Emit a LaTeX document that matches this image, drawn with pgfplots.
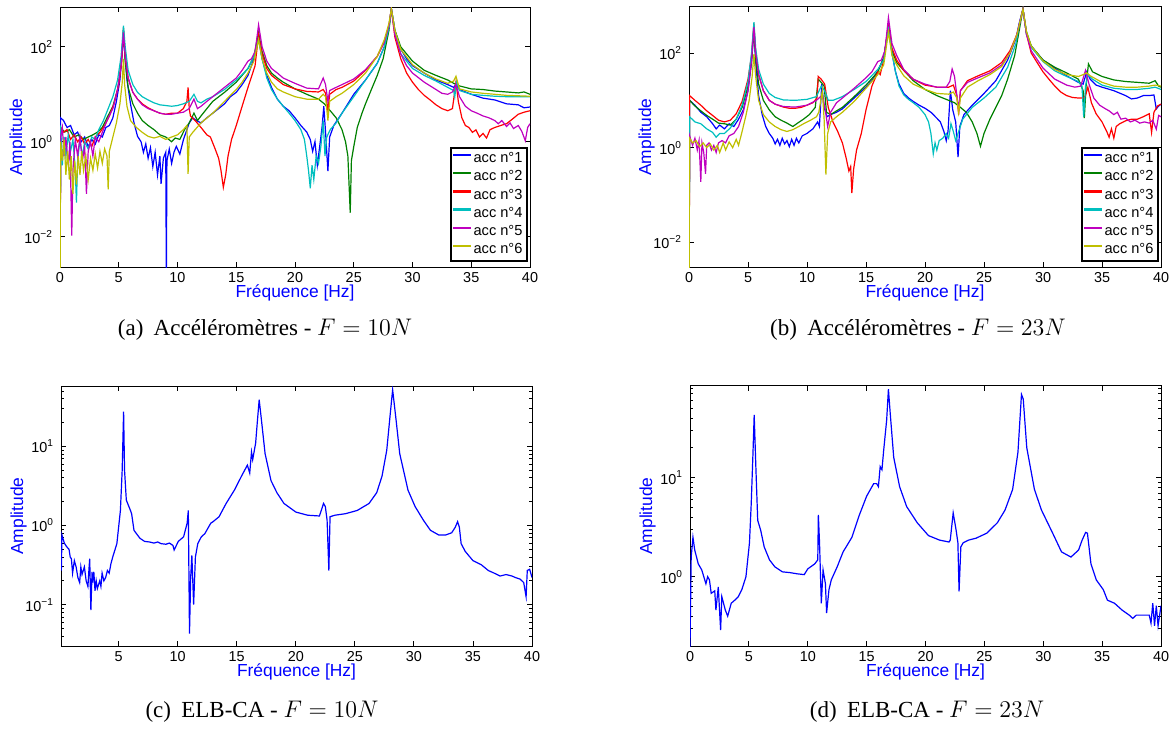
\documentclass[border=0pt]{standalone}
\usepackage{fontspec}
\setmainfont{Liberation Serif}
\newfontfamily\hv{Liberation Sans}
\usepackage{pgfplots}
\pgfplotsset{compat=1.18}
\definecolor{mblue}{rgb}{0,0,1}
\definecolor{mgreen}{rgb}{0,0.5,0}
\definecolor{mred}{rgb}{1,0,0}
\definecolor{mcyan}{rgb}{0,0.75,0.75}
\definecolor{mmag}{rgb}{0.75,0,0.75}
\definecolor{myel}{rgb}{0.75,0.75,0}
\pgfplotsset{
  mystyle/.style={
    scale only axis, xmin=0, xmax=40,
    tick align=inside, major tick length=2.5pt, minor tick length=1.5pt,
    axis line style={line width=0.5pt},
    every tick/.style={black, line width=0.4pt},
    tick label style={font=\hv\fontsize{7.2}{8}\selectfont},
    xticklabel style={inner sep=0pt, yshift=-2.6pt},
    xtick={0,5,...,40},
    label style={font=\hv\fontsize{8.7}{10}\selectfont, text=blue},
    xlabel={Fréquence [Hz]}, ylabel={Amplitude},
    ylabel style={at={(axis description cs:-0.09,0.5)}, anchor=center},
    xlabel style={at={(axis description cs:0.5,-0.1)}, anchor=center, inner sep=0pt},
    every axis plot/.append style={line width=0.6pt},
  },
  leg/.style={
    legend style={at={(0.995,0.02)}, anchor=south east, font=\hv\fontsize{7.3}{8}\selectfont,
      line width=0.7pt, inner xsep=1pt, inner ysep=1pt, row sep=0pt, cells={anchor=west},
      nodes={inner sep=1.25pt, text depth=0.15em}},
  }
}
\begin{document}
\begin{tikzpicture}
\path[use as bounding box] (0,0) rectangle (585pt,-364pt);
% ---------------- (a)
\begin{axis}[ymode=log, mystyle, leg, /pgf/number format/assume math mode=true,
  legend image code/.code={\fill[#1, draw=none] (0pt,1.4pt) rectangle (9pt,2.6pt);},
  at={(30pt,-133.5pt)}, anchor=south west, width=235pt, height=130pt,
  ymin=0.0023, ymax=690, ytick={0.01,1,100},
  yticklabels={{10\textsuperscript{−2}},{10\textsuperscript{0}},{10\textsuperscript{2}}}]
\addplot[color=mblue] coordinates {(0,0.0001)(0.05,3.2)(0.3,2.8)(0.6,2.0)(0.9,2.2)(1.2,1.4)(1.5,1.6)(1.8,1.0)(2.1,1.26)(2.4,0.79)(2.7,1.12)(3.0,0.89)(3.3,1.4)(3.6,1.26)(3.9,2.0)(4.2,2.2)(4.5,3.2)(4.8,7.1)(5.1,20)(5.3,79)(5.4,224)(5.5,79)(5.7,20)(6.0,6.3)(6.3,2.5)(6.6,1.3)(6.9,1.0)(7.1,0.6)(7.3,0.9)(7.5,0.45)(7.7,0.75)(7.9,0.3)(8.1,0.6)(8.3,0.2)(8.5,0.5)(8.6,0.13)(8.8,0.45)(9.0,0.6)(9.05,0.0013)(9.1,0.4)(9.3,0.7)(9.5,0.35)(9.7,0.6)(9.9,0.8)(10.2,0.55)(10.5,1.1)(10.8,1.8)(11.0,2.5)(11.3,3.2)(11.6,2.8)(12.0,2.5)(12.5,3.2)(13.0,4.0)(13.5,5.0)(14.0,6.3)(14.5,8.9)(15.0,11)(15.5,16)(16.0,25)(16.5,56)(16.9,160)(17.2,56)(17.6,25)(18.0,14)(18.5,7.9)(19.0,5.6)(19.5,4.5)(20.0,3.2)(20.5,2.2)(21.0,1.6)(21.3,1.12)(21.5,0.63)(21.7,1.0)(21.9,0.32)(22.1,0.79)(22.3,2.0)(22.45,5.6)(22.6,1.6)(22.8,0.24)(22.95,1.26)(23.3,2.2)(24.0,4.0)(25.0,10)(26.0,20)(27.0,45)(27.6,100)(28.0,280)(28.2,630)(28.5,224)(29.0,89)(29.5,56)(30.0,40)(31.0,28)(32.0,20)(33.0,16)(33.5,14)(33.7,16)(34.0,12.6)(35.0,10)(36.0,8.3)(37.0,7.6)(38.0,6.3)(39.0,6.0)(39.5,5.2)(40.0,5.4)};
\addplot[color=mgreen] coordinates {(0,0.0001)(0.05,2.0)(0.4,1.6)(0.8,1.8)(1.2,1.26)(1.6,1.4)(2.0,1.12)(2.4,1.26)(2.8,1.4)(3.2,1.6)(3.6,2.0)(4.0,3.2)(4.5,5.6)(4.9,12.6)(5.2,40)(5.4,200)(5.55,50)(5.8,14)(6.2,6.3)(6.6,4.0)(7.0,2.8)(7.5,2.2)(8.0,1.8)(8.5,1.4)(9.0,1.26)(9.5,1.0)(9.8,1.2)(10.2,1.12)(10.6,1.8)(11.0,2.5)(11.4,4.0)(11.7,2.8)(12.0,3.5)(12.5,5.0)(13.0,7.1)(14.0,11)(15.0,18)(16.0,35)(16.5,63)(16.9,200)(17.2,79)(17.6,40)(18.0,28)(18.5,22)(19.0,18)(20.0,13)(21.0,10)(22.0,7.9)(22.5,6.3)(23.0,4.5)(23.5,3.2)(24.0,1.8)(24.3,1.0)(24.5,0.5)(24.7,0.032)(24.8,0.4)(25.0,0.79)(25.3,2.0)(25.7,4.0)(26.0,6.3)(26.5,12.6)(27.0,25)(27.5,56)(28.0,224)(28.2,630)(28.5,224)(29.0,100)(30.0,50)(31.0,32)(32.0,25)(33.0,20)(33.7,16)(34.0,15)(35.0,13)(36.0,12.6)(37.0,11.7)(38.0,11.2)(39.0,10.7)(39.5,11.2)(40.0,10)};
\addplot[color=mred] coordinates {(0,0.0001)(0.05,2.0)(0.3,1.6)(0.6,1.8)(0.9,1.12)(1.2,1.4)(1.5,1.0)(1.8,1.26)(2.1,0.89)(2.4,1.12)(2.7,0.79)(3.0,1.26)(3.4,1.58)(3.8,2.2)(4.2,3.5)(4.6,6.3)(5.0,16)(5.25,50)(5.4,250)(5.55,63)(5.8,22)(6.2,11)(6.6,7.9)(7.0,6.3)(7.5,5.2)(8.0,4.5)(8.5,4.0)(9.0,3.8)(9.5,4.0)(10.0,4.0)(10.5,5.0)(10.8,7.1)(10.9,14)(11.0,5.0)(11.1,3.5)(11.5,2.8)(12.0,2.0)(12.5,1.4)(12.8,1.26)(13.2,0.71)(13.5,0.45)(13.7,0.25)(13.9,0.11)(14.1,0.2)(14.3,0.5)(14.6,1.12)(15.0,2.2)(15.5,5.6)(16.0,14)(16.4,28)(16.6,40)(16.9,178)(17.2,71)(17.6,35)(18.0,25)(18.5,20)(19.0,16)(20.0,13)(21.0,11.5)(22.0,11.2)(22.4,12.6)(22.6,10.5)(22.8,4.5)(22.95,10)(23.5,12.6)(24.0,14)(25.0,19)(26.0,32)(27.0,63)(27.6,126)(28.0,280)(28.2,630)(28.5,160)(29.0,56)(29.5,28)(30.0,18)(30.5,12.6)(31.0,9.5)(31.5,7.6)(32.0,6.0)(32.5,5.0)(33.0,4.5)(33.4,5.0)(33.7,18)(33.9,7.1)(34.2,3.2)(34.5,2.2)(34.8,2.0)(35.1,1.58)(35.4,1.78)(35.7,1.26)(36.0,1.5)(36.3,1.2)(36.6,1.8)(37.0,2.0)(37.5,2.2)(38.0,2.4)(38.5,3.0)(39.0,3.8)(39.5,4.2)(40.0,4.5)};
\addplot[color=mcyan] coordinates {(0,0.0001)(0.05,2.2)(0.2,0.32)(0.35,1.26)(0.5,0.5)(0.7,1.4)(0.9,0.63)(1.1,1.12)(1.3,0.25)(1.4,0.052)(1.5,0.4)(1.7,1.12)(1.9,0.5)(2.1,1.0)(2.4,0.71)(2.7,1.26)(3.0,1.12)(3.3,1.8)(3.7,2.8)(4.1,5.0)(4.5,8.9)(4.9,20)(5.2,63)(5.4,280)(5.55,100)(5.8,32)(6.2,16)(6.6,11)(7.0,8.9)(7.5,7.6)(8.0,6.6)(8.5,6.0)(9.0,5.8)(9.5,5.6)(10.0,5.8)(10.5,6.3)(11.0,7.1)(11.4,10)(11.7,7.1)(12.0,6.6)(12.5,7.9)(13.0,8.9)(14.0,12.6)(15.0,20)(15.5,26)(16.0,35)(16.5,63)(16.9,141)(17.2,56)(17.6,22)(18.0,12.6)(18.5,7.9)(19.0,5.6)(19.5,4.0)(20.0,2.8)(20.5,1.8)(20.8,1.12)(21.0,0.5)(21.15,0.25)(21.3,0.105)(21.45,0.32)(21.6,0.16)(21.8,0.5)(22.0,0.35)(22.2,0.79)(22.4,2.8)(22.55,0.5)(22.7,1.26)(23.0,1.8)(23.5,2.5)(24.0,4.0)(25.0,8.9)(26.0,20)(27.0,45)(27.6,100)(28.0,250)(28.2,630)(28.5,200)(29.0,71)(30.0,35)(31.0,25)(32.0,19)(33.0,14)(33.5,12)(33.6,8.9)(33.75,18)(34.0,12)(35.0,10)(36.0,9.5)(37.0,9.1)(38.0,8.9)(39.0,8.9)(40.0,8.9)};
\addplot[color=mmag] coordinates {(0,0.0001)(0.05,1.26)(0.2,2.0)(0.35,0.5)(0.5,1.26)(0.7,0.32)(0.85,1.0)(1.0,0.0105)(1.1,0.25)(1.3,1.12)(1.5,0.5)(1.7,1.26)(1.9,0.4)(2.1,0.79)(2.25,0.08)(2.4,0.63)(2.6,1.0)(2.8,0.5)(3.0,1.26)(3.3,1.0)(3.6,1.58)(4.0,2.8)(4.5,5.0)(4.9,12.6)(5.2,40)(5.4,200)(5.55,63)(5.8,22)(6.2,11)(6.6,7.9)(7.0,6.0)(7.5,5.0)(8.0,4.5)(8.5,4.0)(9.0,3.8)(9.5,3.8)(10.0,4.0)(10.5,4.2)(11.0,5.0)(11.4,7.9)(11.7,5.0)(12.0,5.6)(12.5,7.1)(13.0,8.9)(14.0,14)(15.0,22)(15.5,32)(16.0,50)(16.3,56)(16.6,79)(16.9,290)(17.2,100)(17.6,50)(18.0,35)(18.5,28)(19.0,22)(20.0,17)(21.0,13.5)(22.0,13)(22.4,22)(22.6,16)(22.8,7.1)(22.95,12)(23.5,14)(24.0,16)(25.0,21)(26.0,33)(27.0,63)(27.6,126)(28.0,280)(28.2,630)(28.5,178)(29.0,71)(29.5,40)(30.0,28)(31.0,18)(32.0,12.6)(32.5,10.5)(33.0,10)(33.4,11.2)(33.7,16)(34.0,8.9)(34.5,5.6)(35.0,4.5)(35.5,4.0)(36.0,3.5)(36.5,3.2)(37.0,2.8)(37.3,2.4)(37.6,2.8)(38.0,2.1)(38.3,2.5)(38.6,1.9)(39.0,2.2)(39.3,1.66)(39.6,1.05)(39.8,2.0)(40.0,2.4)};
\addplot[color=myel] coordinates {(0,0.0001)(0.05,1.0)(0.2,0.4)(0.35,1.12)(0.5,0.2)(0.65,0.63)(0.8,0.16)(0.95,0.5)(1.1,0.08)(1.25,0.4)(1.4,0.126)(1.55,0.5)(1.7,0.2)(1.85,0.63)(2.0,0.25)(2.2,0.5)(2.4,0.16)(2.6,0.45)(2.8,0.25)(3.0,0.56)(3.2,0.28)(3.4,0.63)(3.6,0.35)(3.8,0.71)(4.0,0.5)(4.1,0.1)(4.2,0.63)(4.5,1.26)(4.8,2.5)(5.1,6.3)(5.3,18)(5.4,56)(5.5,16)(5.7,5.6)(6.0,2.8)(6.5,2.0)(7.0,1.58)(7.5,1.3)(8.0,1.2)(8.5,1.3)(9.0,1.12)(9.5,1.26)(10.0,1.4)(10.5,1.8)(10.8,2.2)(10.9,0.21)(11.0,1.26)(11.3,1.58)(12.0,2.5)(13.0,4.0)(14.0,7.1)(15.0,12.6)(15.5,18)(16.0,28)(16.5,50)(16.9,141)(17.2,56)(17.6,28)(18.0,18)(18.5,13)(19.0,11.2)(20.0,8.9)(21.0,7.9)(22.0,7.9)(22.4,10)(22.6,8.9)(22.8,2.8)(22.95,7.1)(23.5,8.9)(24.0,10.5)(25.0,16)(26.0,28)(27.0,63)(27.6,141)(28.0,316)(28.2,630)(28.5,224)(29.0,89)(30.0,42)(31.0,28)(32.0,21)(33.0,17)(33.5,19)(33.7,24)(34.0,13)(35.0,11.2)(36.0,10.5)(37.0,10)(38.0,9.5)(39.0,9.3)(40.0,9.1)};
\legend{acc n°1,acc n°2,acc n°3,acc n°4,acc n°5,acc n°6}
\end{axis}
% ---------------- (b)
\begin{axis}[ymode=log, mystyle, leg, /pgf/number format/assume math mode=true,
  legend image code/.code={\fill[#1, draw=none] (0pt,1.4pt) rectangle (9pt,2.6pt);},
  at={(344.5pt,-133.5pt)}, anchor=south west, width=236pt, height=130pt,
  ymin=0.003, ymax=940, ytick={0.01,1,100},
  yticklabels={{10\textsuperscript{−2}},{10\textsuperscript{0}},{10\textsuperscript{2}}}]
\addplot[color=mblue] coordinates {(0,0.0001)(0.05,10)(0.5,7.9)(1.0,5.6)(1.5,4.5)(2.0,3.2)(2.3,2.5)(2.6,3.0)(3.0,2.5)(3.4,3.2)(3.8,2.8)(4.2,4.0)(4.6,6.3)(5.0,16)(5.3,63)(5.5,316)(5.65,63)(5.9,12.6)(6.2,5.0)(6.5,2.8)(6.8,2.0)(7.1,1.58)(7.3,1.2)(7.5,1.5)(7.7,1.12)(7.9,1.58)(8.1,1.2)(8.3,1.41)(8.5,1.05)(8.7,1.5)(8.9,1.12)(9.1,1.58)(9.3,1.26)(9.6,1.78)(10.0,2.0)(10.5,2.5)(10.9,3.5)(11.05,2.8)(11.25,22)(11.45,7.1)(11.7,4.5)(12.0,5.0)(12.5,5.6)(13.0,6.6)(14.0,11.2)(15.0,19)(15.5,26)(16.0,42)(16.5,79)(16.9,355)(17.2,100)(17.5,40)(17.8,22)(18.2,14)(18.6,11.2)(19.0,9.5)(19.5,7.9)(20.0,6.8)(20.5,5.6)(21.0,4.2)(21.3,3.5)(21.6,2.2)(21.8,1.4)(21.95,2.2)(22.15,16)(22.35,6.3)(22.6,3.5)(22.8,0.63)(22.95,2.8)(23.3,5.0)(24.0,7.9)(25.0,14)(26.0,26)(27.0,71)(27.7,200)(28.0,447)(28.3,850)(28.6,250)(29.0,141)(30.0,71)(31.0,48)(32.0,33)(33.0,24)(33.4,22)(33.7,40)(34.0,28)(34.5,21)(35.0,19)(36.0,16)(37.0,12.6)(37.5,10.7)(38.0,11.2)(38.5,12.6)(39.0,12.6)(39.4,13)(39.6,6.6)(39.8,7.6)(40.0,8.3)};
\addplot[color=mgreen] coordinates {(0,0.0001)(0.05,10)(0.5,7.6)(1.0,6.0)(1.5,4.8)(2.0,4.0)(2.5,3.3)(3.0,3.2)(3.5,3.0)(4.0,4.0)(4.5,7.1)(5.0,20)(5.3,71)(5.5,316)(5.65,79)(5.9,22)(6.3,10)(6.8,6.3)(7.3,4.5)(7.8,3.8)(8.3,3.3)(8.8,2.8)(9.2,3.3)(9.7,4.0)(10.2,5.0)(10.7,7.1)(10.95,28)(11.2,24)(11.45,20)(11.65,5.6)(12.0,5.0)(12.5,6.0)(13.0,7.1)(14.0,12)(15.0,21)(16.0,40)(16.5,79)(16.9,355)(17.2,112)(17.6,63)(18.2,43)(19.0,26)(20.0,17)(21.0,12.6)(22.0,10)(22.5,8.9)(23.0,7.1)(23.5,5.6)(24.0,3.5)(24.4,2.0)(24.7,1.07)(25.0,2.0)(25.5,4.0)(26.0,7.1)(26.5,12.6)(27.0,28)(27.6,89)(28.0,316)(28.3,850)(28.6,282)(29.0,141)(30.0,71)(31.0,50)(32.0,38)(33.0,28)(33.4,16)(33.5,4.2)(33.65,20)(33.85,59)(34.2,40)(35.0,32)(36.0,27)(37.0,25)(38.0,24)(39.0,23)(39.5,26)(39.8,20)(40.0,19)};
\addplot[color=mred] coordinates {(0,0.0001)(0.05,12.6)(0.5,10)(1.0,7.9)(1.5,6.0)(2.0,4.8)(2.5,3.8)(3.0,3.5)(3.5,3.8)(4.0,5.2)(4.5,9.5)(5.0,28)(5.3,89)(5.5,417)(5.65,100)(5.9,35)(6.3,16)(6.8,10)(7.3,8.3)(8.0,7.2)(8.5,6.8)(9.0,6.8)(9.5,7.1)(10.0,7.9)(10.5,8.9)(10.85,11.2)(10.95,32)(11.2,28)(11.5,22)(11.8,7.1)(12.2,3.5)(12.6,2.2)(13.0,1.26)(13.3,0.63)(13.55,0.32)(13.7,0.4)(13.8,0.11)(13.95,0.35)(14.2,0.89)(14.6,2.0)(15.0,6.3)(15.5,20)(16.0,40)(16.2,35)(16.5,71)(16.9,400)(17.2,126)(17.6,71)(18.2,43)(19.0,28)(20.0,21)(21.0,19)(22.0,19)(22.4,21)(22.7,12.6)(22.85,5.0)(23.0,16)(23.6,26)(24.5,33)(25.5,42)(26.5,63)(27.2,112)(27.8,250)(28.3,850)(28.6,250)(29.0,100)(29.5,63)(30.0,40)(30.5,28)(31.0,20)(31.5,15)(32.0,12.6)(32.5,11.5)(33.0,11.2)(33.4,11.2)(33.6,12.6)(33.8,19)(34.1,8.9)(34.5,5.2)(35.0,3.5)(35.4,2.2)(35.6,1.66)(35.8,2.5)(36.0,1.58)(36.2,2.8)(36.5,3.2)(37.0,3.7)(37.5,4.0)(38.0,4.0)(38.5,4.5)(39.0,5.2)(39.2,2.1)(39.4,5.6)(39.7,7.6)(40.0,8.3)};
\addplot[color=mcyan] coordinates {(0,0.0001)(0.05,4.5)(0.5,3.5)(1.0,3.2)(1.5,2.5)(2.0,2.1)(2.3,1.66)(2.6,2.0)(3.0,2.0)(3.5,2.6)(4.0,4.0)(4.5,7.9)(5.0,25)(5.3,100)(5.5,447)(5.65,126)(5.9,45)(6.3,22)(6.8,14)(7.3,11.5)(8.0,10.2)(9.0,10)(10.0,10.5)(10.8,12)(11.2,20)(11.5,16)(11.8,10)(12.2,10)(13.0,12)(14.0,17)(15.0,25)(16.0,45)(16.5,71)(16.9,316)(17.2,100)(17.5,40)(17.8,20)(18.2,13)(18.6,10.5)(19.0,8.9)(19.5,7.1)(20.0,5.0)(20.3,3.5)(20.5,2.0)(20.7,0.74)(20.85,1.26)(21.0,0.89)(21.2,1.41)(21.5,1.58)(21.8,2.0)(22.0,1.58)(22.2,3.2)(22.4,2.2)(22.6,1.41)(22.8,2.0)(23.2,4.0)(24.0,7.1)(25.0,11.2)(26.0,19)(27.0,50)(27.7,158)(28.0,400)(28.3,850)(28.6,250)(29.0,132)(30.0,66)(31.0,42)(32.0,32)(33.0,25)(33.3,20)(33.45,4.4)(33.6,20)(33.8,35)(34.2,28)(35.0,21)(36.0,18)(37.0,17)(38.0,17)(39.0,18)(39.5,19)(40.0,17)};
\addplot[color=mmag] coordinates {(0,0.0001)(0.05,1.78)(0.3,1.12)(0.5,1.58)(0.7,0.89)(0.85,1.41)(1.0,0.19)(1.1,1.26)(1.25,0.79)(1.4,0.28)(1.5,1.12)(1.7,1.26)(1.9,0.89)(2.1,1.12)(2.3,0.79)(2.5,1.26)(2.8,1.41)(3.1,1.26)(3.4,1.78)(3.8,2.0)(4.2,2.8)(4.6,5.6)(5.0,16)(5.3,71)(5.5,355)(5.65,100)(5.9,35)(6.3,16)(6.8,10)(7.3,8.3)(8.0,7.4)(9.0,7.2)(10.0,7.9)(10.8,10)(11.3,13)(11.55,6.3)(11.75,2.8)(12.0,5.6)(12.5,8.9)(13.0,11.2)(14.0,18)(15.0,30)(15.5,40)(16.0,66)(16.3,71)(16.6,112)(16.9,562)(17.2,158)(17.6,89)(18.2,45)(19.0,28)(20.0,22)(21.0,19)(21.8,19)(22.1,25)(22.3,46)(22.5,32)(22.7,12.6)(22.85,6.3)(23.0,16)(23.6,24)(24.5,30)(25.5,38)(26.5,56)(27.2,100)(27.8,250)(28.3,850)(28.6,250)(29.0,112)(30.0,48)(31.0,28)(32.0,21)(32.7,19)(33.2,20)(33.6,43)(33.9,22)(34.3,11.2)(34.8,7.9)(35.3,6.6)(35.6,6.0)(36.0,5.0)(36.3,5.6)(36.6,4.0)(37.0,4.2)(37.4,3.5)(37.8,3.8)(38.2,3.3)(38.6,3.5)(39.0,3.3)(39.3,3.8)(39.6,2.45)(39.8,4.8)(40.0,4.5)};
\addplot[color=myel] coordinates {(0,0.0001)(0.05,1.58)(0.3,1.26)(0.6,1.41)(0.9,1.05)(1.2,1.26)(1.5,1.0)(1.8,1.2)(2.1,0.89)(2.4,1.12)(2.6,0.79)(2.9,1.26)(3.1,0.89)(3.4,1.32)(3.7,1.0)(4.0,1.5)(4.2,1.12)(4.5,2.2)(4.8,4.5)(5.1,10)(5.35,32)(5.5,95)(5.65,32)(5.9,10)(6.3,5.0)(6.8,3.5)(7.3,2.8)(7.8,2.4)(8.3,2.2)(8.8,2.4)(9.3,2.8)(9.8,3.3)(10.3,3.8)(10.8,4.5)(11.0,5.6)(11.3,16)(11.45,4.0)(11.6,0.27)(11.75,2.0)(12.0,3.5)(12.5,4.5)(13.0,5.6)(14.0,9.5)(15.0,18)(16.0,35)(16.5,56)(16.9,275)(17.2,89)(17.6,56)(18.2,33)(19.0,22)(20.0,17)(21.0,14)(22.0,13.5)(22.4,15)(22.7,11.2)(22.85,5.6)(23.0,11.2)(23.6,19)(24.5,26)(25.5,35)(26.5,52)(27.2,100)(27.8,250)(28.3,850)(28.6,282)(29.0,141)(30.0,68)(31.0,45)(32.0,35)(33.0,32)(33.4,35)(33.7,38)(34.0,33)(35.0,24)(36.0,20)(37.0,19)(38.0,19)(39.0,20)(39.5,21)(40.0,20)};
\legend{acc n°1,acc n°2,acc n°3,acc n°4,acc n°5,acc n°6}
\end{axis}
% ---------------- (c)
\begin{axis}[ymode=log, mystyle, /pgf/number format/assume math mode=true,
  at={(30.5pt,-323pt)}, anchor=south west, width=235.5pt, height=130pt,
  xmin=0.12, xtick={5,10,...,40},
  ymin=0.03, ymax=58, ytick={0.1,1,10},
  minor ytick={0.04,0.05,0.06,0.07,0.08,0.09,0.2,0.3,0.4,0.5,0.6,0.7,0.8,0.9,2,3,4,5,6,7,8,9,20,30,40,50},
  yticklabels={{10\textsuperscript{−1}},{10\textsuperscript{0}},{10\textsuperscript{1}}}]
\addplot[color=mblue] coordinates {(0.12,0.72)(0.15,0.27)(0.2,0.76)(0.4,0.6)(0.6,0.54)(0.8,0.5)(0.9,0.4)(1.0,0.38)(1.1,0.25)(1.25,0.36)(1.4,0.30)(1.55,0.22)(1.7,0.19)(1.8,0.3)(1.9,0.24)(2.1,0.30)(2.25,0.2)(2.4,0.17)(2.5,0.3)(2.55,0.38)(2.65,0.085)(2.75,0.26)(2.8,0.19)(2.9,0.26)(3.0,0.15)(3.1,0.2)(3.2,0.16)(3.4,0.20)(3.5,0.17)(3.6,0.25)(3.75,0.2)(3.9,0.22)(4.05,0.27)(4.2,0.25)(4.35,0.33)(4.5,0.40)(4.85,0.59)(5.15,1.55)(5.3,5.0)(5.42,27.5)(5.5,5.0)(5.65,2.1)(6.0,1.55)(6.1,1.41)(6.3,0.87)(6.8,0.69)(7.2,0.63)(7.6,0.62)(8.0,0.6)(8.3,0.62)(8.6,0.59)(9.0,0.58)(9.3,0.6)(9.6,0.56)(9.7,0.49)(10.05,0.63)(10.5,0.72)(10.8,1.07)(10.9,1.55)(11.0,0.043)(11.1,0.22)(11.2,0.42)(11.35,0.10)(11.5,0.40)(11.7,0.59)(12.0,0.72)(12.3,0.79)(12.8,1.07)(13.0,1.12)(13.5,1.29)(14.1,1.9)(14.8,2.8)(15.4,4.2)(15.9,5.8)(16.1,4.6)(16.25,8.5)(16.35,6.8)(16.6,11)(16.75,21)(16.9,39)(17.1,21)(17.4,8.1)(17.9,3.7)(18.4,2.6)(19.0,1.9)(20.0,1.48)(21.0,1.35)(22.0,1.32)(22.35,1.9)(22.5,1.74)(22.65,1.17)(22.8,0.27)(22.9,1.29)(23.3,1.35)(24.2,1.41)(25.2,1.55)(26.2,1.9)(26.85,2.6)(27.3,4.2)(27.7,8.9)(28.0,26)(28.2,52)(28.5,21)(28.8,8.1)(29.5,2.8)(30.1,1.74)(30.8,1.17)(31.4,0.87)(32.1,0.76)(32.7,0.76)(33.2,0.81)(33.5,0.95)(33.7,1.12)(33.85,0.95)(34.0,0.59)(34.35,0.47)(35.0,0.36)(35.7,0.32)(36.3,0.27)(36.8,0.25)(37.3,0.23)(37.8,0.24)(38.3,0.23)(38.6,0.22)(39.0,0.21)(39.3,0.19)(39.5,0.126)(39.6,0.27)(39.8,0.28)(40.0,0.22)};
\end{axis}
% ---------------- (d)
\begin{axis}[ymode=log, mystyle, /pgf/number format/assume math mode=true,
  at={(345pt,-323pt)}, anchor=south west, width=235.5pt, height=130pt,
  ymin=0.2, ymax=84, ytick={1,10},
  minor ytick={0.3,0.4,0.5,0.6,0.7,0.8,0.9,2,3,4,5,6,7,8,9,20,30,40,50,60,70,80},
  yticklabels={{10\textsuperscript{0}},{10\textsuperscript{1}}}]
\addplot[color=mblue] coordinates {(0,0.19)(0.1,1.58)(0.25,2.5)(0.4,1.86)(0.7,1.35)(1.0,1.17)(1.35,0.85)(1.5,1.0)(1.65,0.93)(1.8,0.68)(2.1,0.72)(2.2,0.46)(2.4,0.79)(2.6,0.29)(2.7,0.63)(3.0,0.46)(3.2,0.40)(3.5,0.54)(3.8,0.58)(4.1,0.63)(4.4,0.74)(4.75,1.0)(5.05,2.2)(5.2,5.5)(5.35,18)(5.45,43)(5.6,12)(5.75,3.7)(6.0,2.95)(6.3,2.0)(6.75,1.48)(7.2,1.26)(7.85,1.12)(8.5,1.1)(9.1,1.07)(9.7,1.05)(10.0,1.2)(10.6,1.35)(10.85,1.48)(10.9,4.2)(11.0,2.2)(11.15,0.54)(11.3,1.17)(11.5,0.85)(11.6,0.43)(11.8,0.74)(12.0,0.93)(12.5,1.26)(13.0,1.78)(13.75,2.5)(14.35,4.1)(15.0,6.5)(15.6,8.7)(15.85,8.7)(16.0,8.1)(16.15,12.9)(16.3,12)(16.45,19)(16.7,38)(16.85,78)(17.0,45)(17.3,16)(17.8,8.1)(18.4,5.1)(19.3,3.5)(20.25,2.6)(21.2,2.34)(22.0,2.24)(22.1,2.34)(22.35,4.4)(22.6,2.95)(22.75,2.2)(22.85,0.71)(23.0,2.0)(23.2,2.2)(23.65,2.34)(24.3,2.45)(25.2,2.75)(26.1,3.5)(26.75,4.7)(27.4,7.6)(27.85,18)(28.15,69)(28.3,62)(28.6,20)(29.25,7.6)(29.85,4.7)(30.8,2.75)(31.55,1.78)(32.35,1.58)(33.0,1.86)(33.3,2.34)(33.6,2.8)(33.75,2.75)(34.05,1.35)(34.5,0.93)(35.1,0.74)(35.45,0.58)(36.05,0.54)(36.7,0.46)(37.3,0.41)(37.6,0.38)(37.9,0.41)(38.5,0.41)(39.0,0.41)(39.15,0.34)(39.3,0.54)(39.45,0.32)(39.6,0.51)(39.75,0.32)(40.0,0.51)};
\end{axis}
% captions
\node[font=\fontsize{11.5}{13}\selectfont] at (132.5pt,-165pt) {(a)\hspace{0.45em}Accéléromètres - $F = 10N$};
\node[font=\fontsize{11.5}{13}\selectfont] at (459pt,-165pt) {(b)\hspace{0.45em}Accéléromètres - $F = 23N$};
\node[font=\fontsize{11.5}{13}\selectfont] at (131pt,-356pt) {(c)\hspace{0.45em}ELB-CA - $F = 10N$};
\node[font=\fontsize{11.5}{13}\selectfont] at (463.5pt,-356pt) {(d)\hspace{0.45em}ELB-CA - $F = 23N$};
\end{tikzpicture}
\end{document}
